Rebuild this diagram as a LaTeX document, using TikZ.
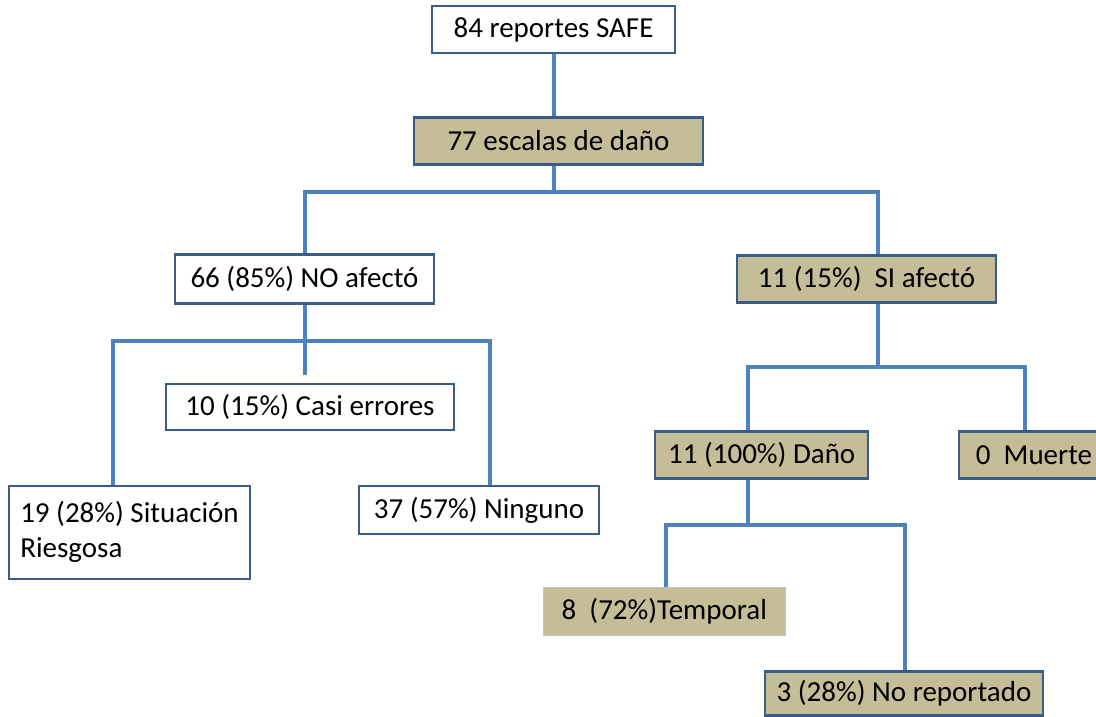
\documentclass[tikz,border=0pt]{standalone}
\usepackage{fontspec}
\setmainfont{Carlito}
\usepackage{tikz}
\usetikzlibrary{positioning, calc, backgrounds}
\definecolor{ssblue}{HTML}{4F81BD}
\definecolor{ssborder}{HTML}{385D8A}
\definecolor{sstan}{HTML}{C4BD97}

\begin{document}
\begin{tikzpicture}[x=1pt, y=-1pt,
  box/.style={draw=ssborder, line width=2.5pt, fill=white, inner xsep=4pt, inner ysep=2pt,
    font=\fontsize{29}{35}\selectfont, minimum height=47pt},
  tanbox/.style={box, fill=sstan},
  link/.style={ssblue, line width=4.5pt}]
  \useasboundingbox (0,0) rectangle (1096,717);

  % Boxes
  \node[box, minimum width=243pt] (safe) at (553.5,29.5) {84 reportes SAFE};
  \node[tanbox, minimum width=289pt] (escalas) at (558.5,141) {77 escalas de daño};
  \node[box, minimum width=259pt, minimum height=49pt] (noaf) at (304.5,279) {66 (85\%) NO afectó};
  \node[tanbox, minimum width=259pt] (siaf) at (866.5,279) {11 (15\%)\ \ SI afectó};
  \node[box, minimum width=288pt, minimum height=46pt] (casi) at (310,407) {10 (15\%) Casi errores};
  \node[box, minimum width=241pt, minimum height=93pt, align=left] (situ) at (129.5,532.3)
    {19 (28\%) Situación\\Riesgosa};
  \node[box, minimum width=240pt, minimum height=48pt] (ninguno) at (479,510) {37 (57\%) Ninguno};
  \node[tanbox, minimum width=213pt] (dano) at (761.7,455) {11 (100\%) Daño};
  \node[tanbox, minimum width=150pt] (muerte) at (1034,455) {0\ \ Muerte};
  \node[tanbox, draw=ssborder!35, line width=0.8pt, minimum width=242pt, minimum height=48pt] (temporal)
    at (664.3,611) {8\ \ (72\%)Temporal};
  \node[tanbox, minimum width=278pt, minimum height=44pt] (noreport) at (904,693.5) {3 (28\%) No reportado};

  % Junctions
  \coordinate (top) at (554,192);
  \coordinate (leftA) at (305,192);
  \coordinate (rightA) at (878,192);
  \coordinate (leftB) at (113,341);
  \coordinate (midB) at (305,375);
  \coordinate (rightB) at (490,341);
  \coordinate (leftC) at (748,367);
  \coordinate (rightC) at (1025,367);
  \coordinate (leftD) at (666,525);
  \coordinate (rightD) at (905,525);

  % Connectors
  \begin{scope}[on background layer]
    \draw[link] (safe.south -| top) -- (escalas.north -| top);
    \draw[link] (escalas.south -| top) -- (top);
    \draw[link] (noaf.north -| leftA) -- (leftA) -- (rightA) -- (siaf.north -| rightA);
    \draw[link] (noaf.south -| leftA) -- (midB);
    \draw[link] (situ.north -| leftB) -- (leftB) -- (rightB) -- (ninguno.north -| rightB);
    \draw[link] (siaf.south -| rightA) -- (rightA |- leftC);
    \draw[link] (dano.north -| leftC) -- (leftC) -- (rightC) -- (muerte.north -| rightC);
    \draw[link] (dano.south -| leftC) -- (leftC |- leftD);
    \draw[link] (temporal.north -| leftD) -- (leftD) -- (rightD) -- (noreport.north -| rightD);
  \end{scope}
\end{tikzpicture}
\end{document}
